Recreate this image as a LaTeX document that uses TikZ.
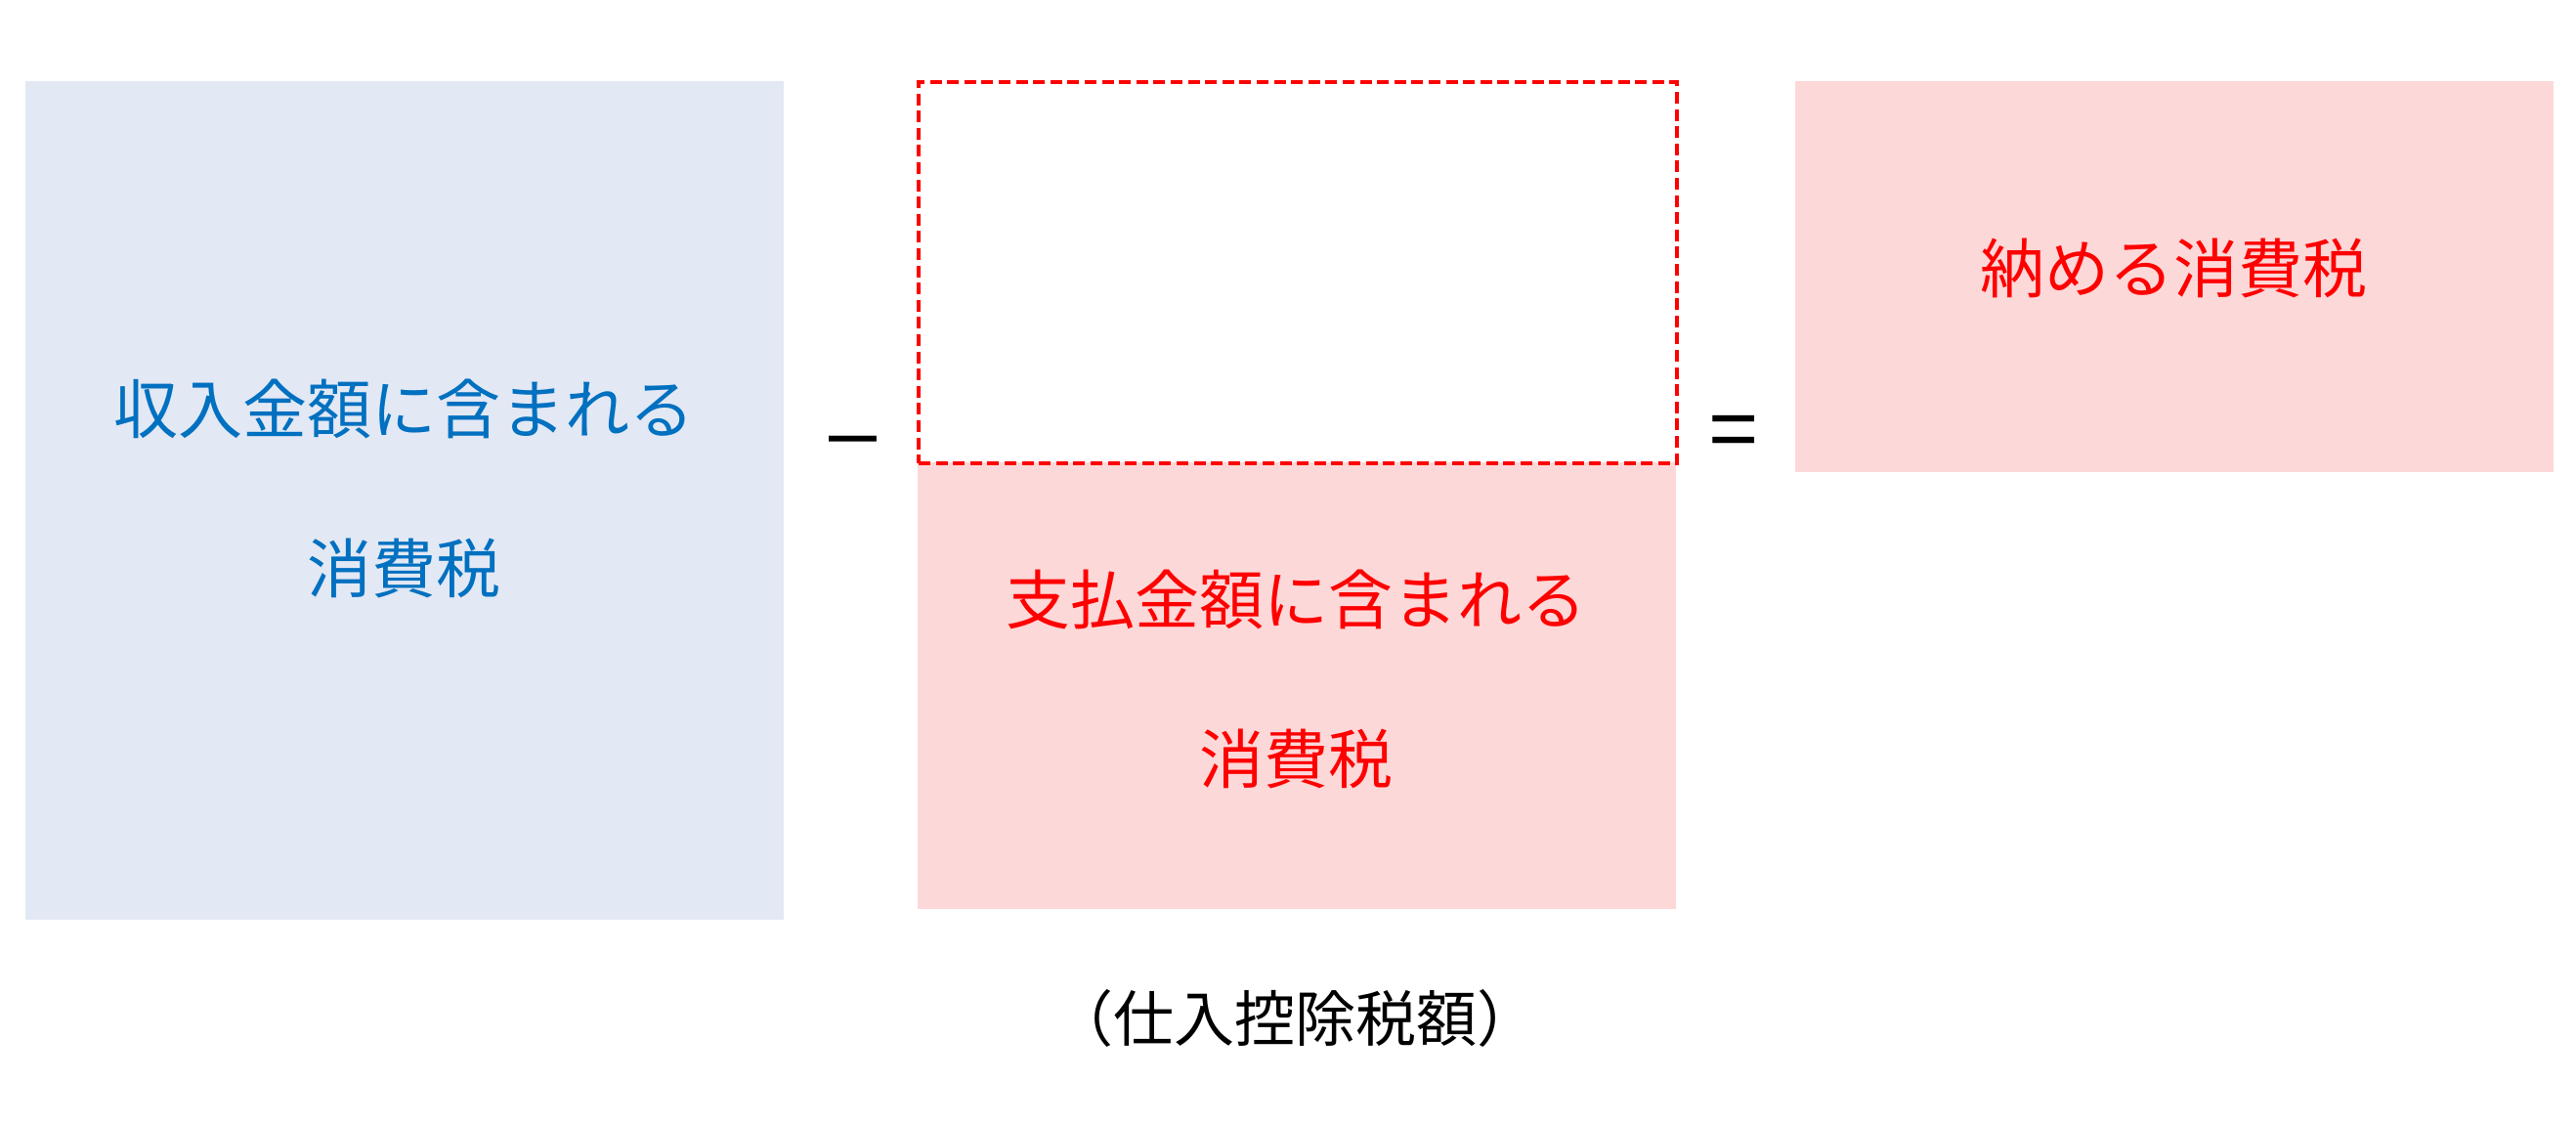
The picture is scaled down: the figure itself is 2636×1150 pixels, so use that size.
\documentclass[tikz,border=0pt]{standalone}
\usepackage{fontspec}
\setmainfont{Noto Sans CJK JP}
\newfontfamily\opfont{Liberation Sans}
\definecolor{lblue}{HTML}{E2E8F4}
\definecolor{lpink}{HTML}{FDD8D9}
\definecolor{tblue}{HTML}{0070C0}
\definecolor{tred}{HTML}{FF0000}
\begin{document}
\begin{tikzpicture}[x=0.25pt,y=-0.25pt,
  box/.style={draw=none,inner sep=0pt,anchor=north west,minimum width=194pt},
  lbl/.style={align=center,font=\fontsize{16.5pt}{40.75pt}\selectfont},
  op/.style={font=\opfont\fontsize{22pt}{24pt}\selectfont,inner sep=0pt}]
\useasboundingbox (0,0) rectangle (2636,1150);
\node (L) [box,fill=lblue,minimum height=214.5pt] at (25,82) {};
\node (P) [box,fill=lpink,minimum height=114.25pt] at (938,472) {};
\node (D) [box,draw=tred,line width=1pt,dash pattern=on 3pt off 1.4pt,minimum height=97.5pt] at (938,82) {};
\node (R) [box,fill=lpink,minimum height=100pt] at (1836,82) {};
\node (Lt) [lbl,text=tblue] at ([yshift=3pt]L.center) {収入金額に含まれる\\消費税};
\node (Pt) [lbl,text=tred] at ([yshift=1.5pt]P.center) {支払金額に含まれる\\消費税};
\node (Rt) [lbl,text=tred] at ([yshift=2pt]R.center) {納める消費税};
\node (minus) [op] at (873,459) {–};
\node (eq) [op] at (1774,447) {=};
\node (note) [font=\fontsize{15.5pt}{20pt}\selectfont] at (1325,1042) {（仕入控除税額）};
\end{tikzpicture}
\end{document}
